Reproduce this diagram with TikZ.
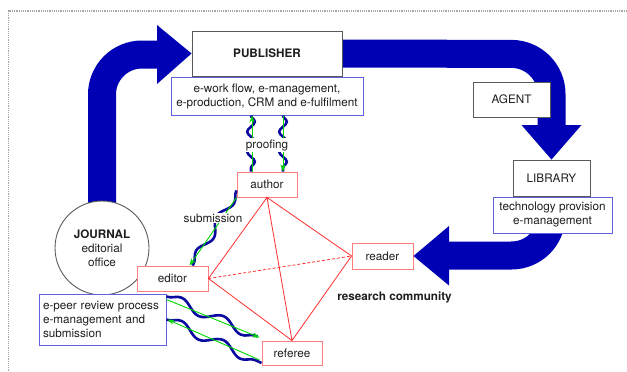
\documentclass[tikz,border=0pt]{standalone}
\usepackage{fontspec}
\setmainfont{TeX Gyre Heros}
\usetikzlibrary{decorations.pathmorphing,arrows.meta}
\definecolor{bigblue}{RGB}{0,0,180}
\definecolor{snakeblue}{RGB}{10,10,160}
\definecolor{boxgray}{RGB}{90,90,90}
\definecolor{subblue}{RGB}{95,95,225}
\definecolor{pinkred}{RGB}{255,125,125}
\definecolor{linered}{RGB}{255,45,45}
\definecolor{arrowgreen}{RGB}{0,215,0}
\definecolor{txt}{RGB}{30,30,30}
\begin{document}
\begin{tikzpicture}[x=1pt,y=-1pt,
  every node/.style={font=\fontsize{11.7}{14}\selectfont, text=txt},
  bigshaft/.style={draw=bigblue, line width=28pt, rounded corners=40pt},
  headfill/.style={fill=bigblue},
  graybox/.style={draw=boxgray, fill=white, line width=0.9pt, inner sep=0pt},
  subbox/.style={draw=subblue, fill=white, line width=1pt, inner sep=0pt, align=center},
  rolebox/.style={draw=pinkred, fill=white, line width=0.9pt, inner sep=0pt},
  tetra/.style={draw=linered, line width=0.8pt},
  snakeline/.style 2 args={draw=snakeblue, line width=2.6pt, decorate, decoration={snake, segment length=#1, amplitude=#2}},
  greenarrow/.style={draw=arrowgreen, line width=0.9pt, -{Stealth[length=7pt,width=5pt]}},
  wavelabel/.style={fill=white, inner sep=1pt}
]
\useasboundingbox (0,0) rectangle (627,372);
\draw[gray!70, densely dotted, line width=1.2pt] (627,11) -- (8.5,11) -- (8.5,372);

% node placement (boxes drawn later on top of the big arrows)
\path
  (267,53.5) node[graybox, minimum width=150pt, minimum height=45pt, font=\fontsize{11.7}{14}\selectfont\bfseries] (publisher) {PUBLISHER}
  (511.5,99.5) coordinate (agentpos)
  (551.5,178) node[graybox, minimum width=77pt, minimum height=36pt] (library) {LIBRARY}
  (382.5,256) coordinate (readerpos)
  (102,248) coordinate (journalpos);

\node[rolebox, minimum width=61pt, minimum height=26pt] (reader) at (readerpos) {reader};

% big blue arrows
\draw[bigshaft] (journalpos) -- (102,54.5) -- (158,54.5);
\fill[headfill] (157,25) -- (publisher.west) -- (157,84) -- cycle;
\draw[bigshaft] (publisher.east) -- (551.5,54) -- (551.5,126);
\fill[headfill] (521.5,125) -- (library.north) -- (581.5,125) -- cycle;
\draw[bigshaft] (library.center) -- (551.5,255.5) -- (448,255.5);
\fill[headfill] (449,226) -- (reader.east) -- (449,285.5) -- cycle;

% boxes
\node[graybox, minimum width=150pt, minimum height=45pt, font=\fontsize{11.7}{14}\selectfont\bfseries] at (publisher) {PUBLISHER};
\node[subbox, minimum width=192pt, minimum height=38pt] (pubsub) at (267,96) {e-work flow, e-management,\\e-production, CRM and e-fulfilment};
\node[graybox, minimum width=77pt, minimum height=35pt] (agent) at (agentpos) {AGENT};
\node[graybox, minimum width=77pt, minimum height=36pt] at (library) {LIBRARY};
\node[subbox, minimum width=119pt, minimum height=36pt] (libsub) at (552.5,215) {technology provision\\e-management};
\node[draw=boxgray, fill=white, line width=0.9pt, circle, minimum size=94pt, inner sep=0pt, align=center] (journal) at (journalpos) {\textbf{JOURNAL}\\editorial\\office};
\node[subbox, align=left, text width=119pt, inner xsep=4pt, minimum height=51pt] (peer) at (102.5,319.5) {e-peer review process\\e-management and\\submission};
\node[rolebox, minimum width=60pt, minimum height=25pt] (author) at (267,184.5) {author};
\node[rolebox, minimum width=71pt, minimum height=25pt] (editor) at (172.5,278.5) {editor};
\node[rolebox, minimum width=60pt, minimum height=24pt] (referee) at (292,353) {referee};
\node[font=\fontsize{11.7}{14}\selectfont\bfseries] (community) at (394.5,297) {research community};

% tetrahedron
\draw[tetra] (author.south) -- (editor.east) -- (referee.north) -- (author.south) -- (reader.west) -- (referee.north);
\draw[tetra, densely dashed] (editor.east) -- (reader.west);

% proofing
\draw[snakeline={20}{3.8pt}] ([xshift=-16pt]pubsub.south) -- ([xshift=-16pt]author.north);
\draw[snakeline={20}{3.8pt}] ([xshift=16pt]pubsub.south) -- ([xshift=16pt]author.north);
\draw[greenarrow] ([xshift=-15pt]author.north) -- ([xshift=-15pt]pubsub.south);
\draw[greenarrow] ([xshift=16pt]pubsub.south) -- ([xshift=16pt]author.north);
\node[wavelabel] (proofing) at (267,145) {proofing};

% submission
\draw[snakeline={40}{4.5pt}] ([yshift=7pt]author.south west) -- ([xshift=20pt]editor.north);
\draw[greenarrow] (author.south west) -- ([xshift=17pt]editor.north);
\node[wavelabel] (submission) at (213,218) {submission};

% peer review
\draw[snakeline={46}{5pt}] ([yshift=-3pt]peer.north east) -- ([xshift=-4pt,yshift=4pt]referee.north west);
\draw[snakeline={46}{5pt}] (peer.east) -- ([yshift=-10pt]referee.west);
\draw[greenarrow] ([yshift=-6pt]peer.north east) -- ([xshift=-2pt,yshift=3pt]referee.north west);
\draw[greenarrow] ([xshift=-2pt,yshift=-7pt]referee.west) -- ([xshift=1pt]peer.east);
\end{tikzpicture}
\end{document}
